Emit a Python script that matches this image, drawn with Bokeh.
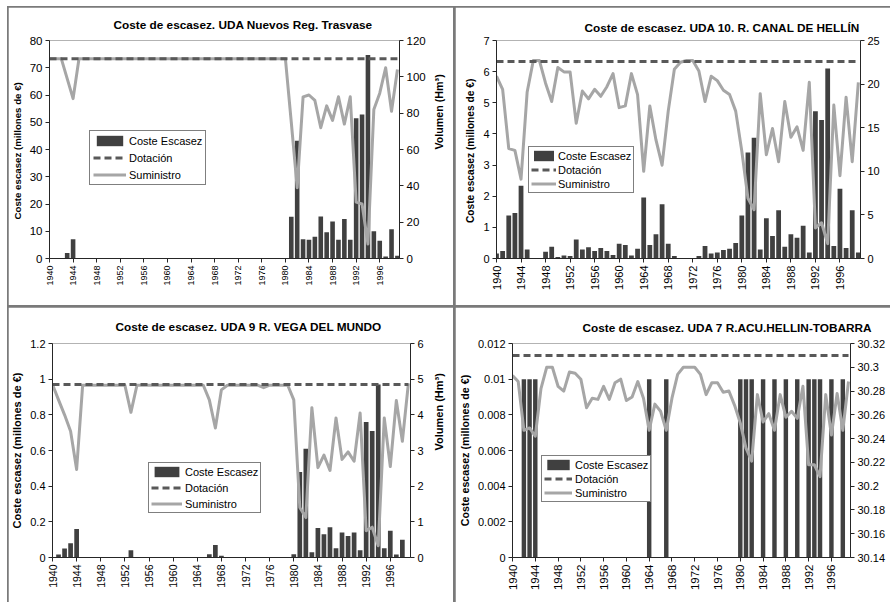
import math
from bokeh.plotting import figure
from bokeh.models import (Range1d, LinearAxis, FixedTicker, CustomJSTickFormatter,
                          Legend, LegendItem, ColumnDataSource, Spacer)
from bokeh.layouts import row, column
from bokeh.embed import file_html
from bokeh.resources import INLINE

# ---------------- data ----------------
years = list(range(1940, 2000))
x_ticks = [1940, 1944, 1948, 1952, 1956, 1960, 1964, 1968, 1972, 1976, 1980, 1984, 1988, 1992, 1996]
legend_labels = ["Coste Escasez", "Dotación", "Suministro"]

# UDA Nuevos Reg. Trasvase
title_trasvase = "Coste de escasez. UDA Nuevos Reg. Trasvase"
coste_trasvase = [0, 0, 0, 2.0, 7.1, 0, 0, 0, 0, 0,
                  0, 0, 0, 0, 0, 0, 0, 0, 0, 0,
                  0, 0, 0, 0, 0, 0, 0, 0, 0, 0,
                  0, 0, 0, 0, 0, 0, 0, 0, 0, 0,
                  0, 15.3, 43.2, 7.1, 6.9, 8.0, 15.4, 9.6, 13.6, 6.9,
                  14.5, 6.9, 51.5, 52.8, 74.7, 10.0, 6.5, 0.7, 10.7, 1.0]
sumin_trasvase = [110, 110, 110, 99, 88, 110, 110, 110, 110, 110,
                  110, 110, 110, 110, 110, 110, 110, 110, 110, 110,
                  110, 110, 110, 110, 110, 110, 110, 110, 110, 110,
                  110, 110, 110, 110, 110, 110, 110, 110, 110, 110,
                  110, 75, 39, 89, 90, 87, 72, 84, 76, 89,
                  74, 89, 31, 30, 8, 82, 91, 105, 81, 104]
dot_trasvase = 110
left_ticks_trasvase = [0, 10, 20, 30, 40, 50, 60, 70, 80]
right_ticks_trasvase = [0, 20, 40, 60, 80, 100, 120]

# UDA 10. R. CANAL DE HELLIN
title_hellin = "Coste de escasez. UDA 10. R. CANAL DE HELLÍN"
coste_hellin = [0.16, 0.24, 1.38, 1.46, 2.34, 0.29, 0, 0, 0.22, 0.38,
                0.05, 0.10, 0.08, 0.61, 0.29, 0.36, 0.24, 0.34, 0.24, 0.11,
                0.47, 0.43, 0.10, 0.31, 1.96, 0.43, 0.78, 1.74, 0.47, 0.08,
                0, 0, 0, 0.08, 0.40, 0.16, 0.19, 0.27, 0.31, 0.50,
                1.38, 3.40, 3.88, 0.29, 1.29, 0.72, 1.55, 0.38, 0.78, 0.67,
                1.05, 0.19, 4.73, 4.45, 6.10, 0.40, 2.24, 0.34, 1.55, 0.19]
sumin_hellin = [20.9, 19.4, 12.6, 12.4, 9.1, 19.1, 22.7, 22.7, 20.1, 18.0,
                21.9, 21.4, 21.4, 15.5, 19.2, 18.3, 19.4, 18.6, 19.7, 21.2,
                17.3, 17.5, 21.2, 18.8, 10.0, 17.5, 13.6, 10.7, 16.9, 21.7,
                22.5, 22.7, 22.7, 21.5, 18.0, 20.9, 20.4, 19.3, 18.8, 16.9,
                12.3, 6.9, 5.6, 18.9, 11.9, 14.9, 11.1, 18.0, 13.9, 15.1,
                12.4, 20.2, 3.5, 4.1, 1.7, 17.6, 9.5, 18.5, 11.1, 20.2]
dot_hellin = 22.6
left_ticks_hellin = [0, 1, 2, 3, 4, 5, 6, 7]
right_ticks_hellin = [0, 5, 10, 15, 20, 25]

# UDA 9 R. VEGA DEL MUNDO
title_vega = "Coste de escasez. UDA 9 R. VEGA DEL MUNDO"
coste_vega = [0, 0.017, 0.05, 0.08, 0.16, 0, 0, 0, 0, 0,
              0, 0, 0, 0.04, 0, 0, 0, 0, 0, 0,
              0, 0, 0, 0, 0, 0, 0.018, 0.07, 0.01, 0,
              0, 0, 0, 0, 0, 0, 0, 0, 0, 0,
              0.018, 0.48, 0.61, 0.03, 0.165, 0.13, 0.17, 0.052, 0.14, 0.12,
              0.14, 0.04, 0.76, 0.71, 0.97, 0.052, 0.15, 0.017, 0.10, 0]
sumin_vega = [4.85, 4.42, 4.0, 3.54, 2.47, 4.83, 4.83, 4.83, 4.83, 4.83,
              4.83, 4.83, 4.83, 4.07, 4.83, 4.83, 4.83, 4.83, 4.83, 4.83,
              4.83, 4.83, 4.83, 4.83, 4.83, 4.83, 4.42, 3.63, 4.7, 4.83,
              4.83, 4.83, 4.83, 4.83, 4.83, 4.76, 4.83, 4.83, 4.83, 4.83,
              4.42, 1.4, 1.12, 4.2, 2.52, 2.87, 2.44, 3.91, 2.75, 2.96,
              2.7, 4.05, 0.75, 0.85, 0.33, 3.91, 2.55, 4.4, 3.26, 4.88]
dot_vega = 4.85
left_ticks_vega = [0, 0.2, 0.4, 0.6, 0.8, 1, 1.2]
right_ticks_vega = [0, 1, 2, 3, 4, 5, 6]

# UDA 7 R.ACU.HELLIN-TOBARRA
title_tobarra = "Coste de escasez. UDA 7 R.ACU.HELLIN-TOBARRA"
coste_tobarra = [0, 0, 0.01, 0.01, 0.01, 0, 0, 0, 0, 0,
                 0, 0, 0, 0, 0, 0, 0, 0, 0, 0,
                 0, 0, 0, 0, 0.01, 0, 0, 0.01, 0, 0,
                 0, 0, 0, 0, 0, 0, 0, 0, 0, 0,
                 0.01, 0.01, 0.01, 0, 0.01, 0, 0.01, 0, 0.01, 0,
                 0.01, 0, 0.01, 0.01, 0.01, 0, 0.01, 0, 0.01, 0]
sumin_tobarra = [30.293, 30.288, 30.247, 30.249, 30.242, 30.282, 30.300, 30.300, 30.284, 30.280,
                 30.296, 30.295, 30.290, 30.266, 30.274, 30.273, 30.284, 30.273, 30.287, 30.290,
                 30.272, 30.275, 30.288, 30.274, 30.247, 30.269, 30.263, 30.247, 30.274, 30.294,
                 30.300, 30.300, 30.300, 30.294, 30.277, 30.287, 30.287, 30.279, 30.280, 30.268,
                 30.253, 30.232, 30.221, 30.277, 30.254, 30.261, 30.247, 30.277, 30.258, 30.263,
                 30.257, 30.284, 30.218, 30.218, 30.208, 30.277, 30.243, 30.278, 30.247, 30.288]
dot_tobarra = 30.31
left_ticks_tobarra = [0, 0.002, 0.004, 0.006, 0.008, 0.01, 0.012]
right_ticks_tobarra = [30.14, 30.16, 30.18, 30.2, 30.22, 30.24, 30.26, 30.28, 30.3, 30.32]

ylabel_a = "Coste escasez  (millones de €)"
ylabel_b = "Coste escasez (millones de €)"
vlabel = "Volumen (Hm³)"

# ---------------- style ----------------
FONT = "Liberation Sans"
BAR = "#404040"
DOT = "#595959"
SUM = "#a6a6a6"
AXIS = "#262626"
FRAME_GRAY = "#7a7a7a"


def fmt():
    return CustomJSTickFormatter(code="return String(parseFloat(tick.toFixed(6)));")


def style_axis(ax, fs, lab_fs, lab_standoff=4):
    ax.axis_line_color = AXIS
    ax.major_tick_line_color = AXIS
    ax.major_tick_out = 4
    ax.major_tick_in = 0
    ax.minor_tick_out = 0
    ax.minor_tick_in = 0
    ax.major_label_text_font = FONT
    ax.major_label_text_font_size = fs
    ax.major_label_text_color = "black"
    ax.major_label_standoff = 3
    ax.axis_label_text_font = FONT
    ax.axis_label_text_font_size = lab_fs
    ax.axis_label_text_font_style = "bold"
    ax.axis_label_text_color = "black"
    ax.axis_label_standoff = lab_standoff


def panel(title, coste, sumin, dot, lticks, rticks, ylabel, rlabel, W, H, mb,
          t_off, t_stand, leg_loc, leg_kw, xfs, yfs, lab_fs, rlab_fs, rlab_standoff):
    l, r, t, b = mb
    p = figure(width=W, height=H, output_backend="svg", toolbar_location=None,
               x_range=Range1d(1940, 1999.35),
               y_range=Range1d(lticks[0], lticks[-1]),
               min_border_left=l, min_border_right=r, min_border_top=t, min_border_bottom=b,
               background_fill_color="white", border_fill_color="white",
               outline_line_color="#b3b3b3", outline_line_width=1)
    p.extra_y_ranges = {"vol": Range1d(rticks[0], rticks[-1])}
    p.xgrid.visible = False
    p.ygrid.visible = False

    src = ColumnDataSource(dict(year=years, coste=coste, sumin=sumin,
                                dot=[dot for _ in years]))
    bars = p.vbar(x="year", top="coste", width=0.78, source=src,
                  fill_color=BAR, line_color=None)
    ls = p.line("year", "sumin", source=src, y_range_name="vol",
                line_color=SUM, line_width=3, line_join="round")
    ld = p.line("year", "dot", source=src, y_range_name="vol",
                line_color=DOT, line_width=3, line_dash="7 4")

    xa = p.xaxis[0]
    xa.ticker = FixedTicker(ticks=x_ticks)
    xa.major_label_orientation = math.pi / 2
    style_axis(xa, xfs, lab_fs)

    ya = p.yaxis[0]
    ya.ticker = FixedTicker(ticks=lticks)
    ya.formatter = fmt()
    ya.axis_label = ylabel
    style_axis(ya, yfs, lab_fs)

    ra = LinearAxis(y_range_name="vol", ticker=FixedTicker(ticks=rticks), formatter=fmt())
    style_axis(ra, yfs, rlab_fs, rlab_standoff)
    if rlabel:
        ra.axis_label = rlabel
        if "axis_label_orientation" in LinearAxis.properties():
            ra.axis_label_orientation = math.pi / 2
    p.add_layout(ra, "right")

    p.title.text = title
    p.title.align = "left"
    p.title.offset = t_off
    p.title.standoff = t_stand
    p.title.text_font = FONT
    p.title.text_font_size = "11.8px"
    p.title.text_font_style = "bold"
    p.title.text_color = "black"

    leg = Legend(items=[LegendItem(label=legend_labels[0], renderers=[bars]),
                        LegendItem(label=legend_labels[1], renderers=[ld]),
                        LegendItem(label=legend_labels[2], renderers=[ls])],
                 location=leg_loc, orientation="vertical",
                 border_line_color="black", border_line_width=1,
                 background_fill_color="white", background_fill_alpha=1,
                 label_text_font=FONT, label_text_font_size="11px",
                 label_text_color="black", margin=0,
                 glyph_height=13, label_height=13, **leg_kw)
    p.add_layout(leg, "center")
    return p


p1 = panel(title_trasvase, coste_trasvase, sumin_trasvase, dot_trasvase,
           left_ticks_trasvase, right_ticks_trasvase, ylabel_a, vlabel,
           445, 298, (40, 43, 33, 47), 64, 17, (40, 73),
           dict(glyph_width=33, label_standoff=3, padding=3, spacing=4),
           "9px", "11.5px", "9.7px", "10.7px", 10)
p2 = panel(title_hellin, coste_hellin, sumin_hellin, dot_hellin,
           left_ticks_hellin, right_ticks_hellin, ylabel_a, None,
           435, 298, (41, 30, 30, 43), 88, 11, (32, 65),
           dict(glyph_width=25, label_standoff=2, padding=2, spacing=1),
           "11px", "11px", "10.2px", "10.2px", 4)
p3 = panel(title_vega, coste_vega, sumin_vega, dot_vega,
           left_ticks_vega, right_ticks_vega, ylabel_b, vlabel,
           445, 295, (41, 37, 35, 45), 63, 20, (96, 44),
           dict(glyph_width=31, label_standoff=3, padding=2, spacing=3),
           "10.5px", "11px", "11px", "11px", 12)
p4 = panel(title_tobarra, coste_tobarra, sumin_tobarra, dot_tobarra,
           left_ticks_tobarra, right_ticks_tobarra, ylabel_b, None,
           435, 295, (55, 40, 35, 45), 70, 18, (29, 55),
           dict(glyph_width=28, label_standoff=3, padding=2, spacing=1),
           "11.5px", "11px", "10.7px", "10.7px", 4)

grid = column(Spacer(width=882, height=1),
              row(Spacer(width=1, height=298), p1, Spacer(width=2, height=298), p2),
              Spacer(width=882, height=2),
              row(Spacer(width=1, height=295), p3, Spacer(width=2, height=295), p4),
              styles={"background-color": FRAME_GRAY})

layout = column(Spacer(width=889, height=6),
                row(Spacer(width=7, height=596), grid))

with open("out.html", "w") as f:
    f.write(file_html(layout, INLINE))
